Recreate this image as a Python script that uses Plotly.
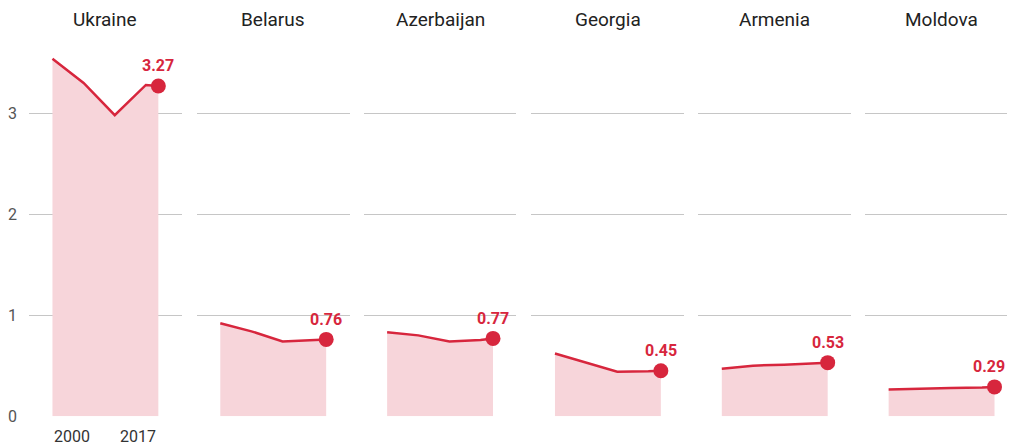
import plotly.graph_objects as go

years = [2000, 2005, 2010, 2015, 2017]
countries = ["Ukraine", "Belarus", "Azerbaijan", "Georgia", "Armenia", "Moldova"]
ukraine = [3.54, 3.30, 2.98, 3.28, 3.27]
belarus = [0.92, 0.84, 0.74, 0.755, 0.76]
azerbaijan = [0.83, 0.80, 0.74, 0.755, 0.77]
georgia = [0.62, 0.53, 0.44, 0.445, 0.45]
armenia = [0.47, 0.50, 0.51, 0.52, 0.53]
moldova = [0.265, 0.275, 0.28, 0.285, 0.29]
series = [ukraine, belarus, azerbaijan, georgia, armenia, moldova]
y_ticks = [0, 1, 2, 3]
x_labels = ["2000", "2017"]

# screen mapping of the page: screen = 8 + fig (x), screen = 8 + 0.975*fig (y)
OX, OY, SY = 8, 8, 0.975
VISIBLE_RIGHT = 1005  # right edge of what is visible on screen


def fx(px):
    return px - OX


def fy(py):
    return (py - OY) / SY


W, H = 1015 - OX, 450
RED = "#d7263d"
FILL = "#f7d5da"
GRID = "#c6c6c6"
FONT = "Roboto, sans-serif"

panel_left = [fx(p) for p in [28, 196, 363, 531, 698, 865]]
panel_w = 153
off = 23.5
pxyr = 106 / 17
x0 = 2000 - off / pxyr

y_bottom_px = fy(415)
unit_px = 100.7 / SY
y_top_val = 3.6
y_top_px = y_bottom_px - y_top_val * unit_px

fig = go.Figure()
layout = dict(
    width=W, height=H, margin=dict(l=0, r=0, t=0, b=0),
    paper_bgcolor="white", plot_bgcolor="white", showlegend=False,
    font=dict(family=FONT, color="#333"),
)
annotations = []
for i, (name, vals) in enumerate(zip(countries, series)):
    left = panel_left[i]
    right = min(left + panel_w, W)
    xa = "x" if i == 0 else f"x{i+1}"
    ya = "y" if i == 0 else f"y{i+1}"
    fig.add_trace(go.Scatter(
        x=years, y=vals, mode="lines", fill="tozeroy", fillcolor=FILL,
        line=dict(color=RED, width=2.5), xaxis=xa, yaxis=ya, hoverinfo="skip"))
    fig.add_trace(go.Scatter(
        x=[years[-1]], y=[vals[-1]], mode="markers",
        marker=dict(color=RED, size=15), xaxis=xa, yaxis=ya, hoverinfo="skip"))
    xkey = "xaxis" if i == 0 else f"xaxis{i+1}"
    ykey = "yaxis" if i == 0 else f"yaxis{i+1}"
    layout[xkey] = dict(
        domain=[left / W, right / W],
        range=[x0, x0 + (right - left) / pxyr],
        showgrid=False, zeroline=False, showticklabels=False, showline=False,
        anchor=ya, fixedrange=True)
    layout[ykey] = dict(
        domain=[(H - y_bottom_px) / H, (H - y_top_px) / H],
        range=[0, y_top_val], tickvals=y_ticks,
        showgrid=True, gridcolor=GRID, gridwidth=1,
        zeroline=False, showline=False, ticks="",
        showticklabels=(i == 0), tickfont=dict(size=16, color="#555", family=FONT),
        ticklabelstandoff=11,
        anchor=xa, fixedrange=True, layer="below traces")
    annotations.append(dict(
        text=name, xref="paper", yref="paper",
        x=(left + panel_w / 2) / W, y=1,
        xanchor="center", yanchor="top", showarrow=False,
        borderpad=0, borderwidth=0,
        font=dict(size=19, color="#222", family=FONT)))
    # value label centred over the end dot, kept inside the visible area
    dot_screen_x = OX + left + off + (years[-1] - 2000) * pxyr
    label_half = 16
    shift = min(0, (VISIBLE_RIGHT - label_half) - dot_screen_x)
    annotations.append(dict(
        text=f"<b>{vals[-1]:.2f}</b>", xref=xa, yref=ya,
        x=years[-1], y=vals[-1], yshift=20, xshift=shift,
        xanchor="center", yanchor="middle", showarrow=False,
        font=dict(size=16, color=RED, family=FONT)))

annotations.append(dict(text=x_labels[0], xref="x", yref="paper", x=years[0],
                        y=(H - fy(435)) / H, xanchor="left", yanchor="middle",
                        showarrow=False, font=dict(size=16, color="#333", family=FONT)))
annotations.append(dict(text=x_labels[1], xref="x", yref="paper", x=years[-1],
                        y=(H - fy(435)) / H, xanchor="right", yanchor="middle",
                        showarrow=False, font=dict(size=16, color="#333", family=FONT)))
layout["annotations"] = annotations
fig.update_layout(**layout)
fig.write_html("out.html")
